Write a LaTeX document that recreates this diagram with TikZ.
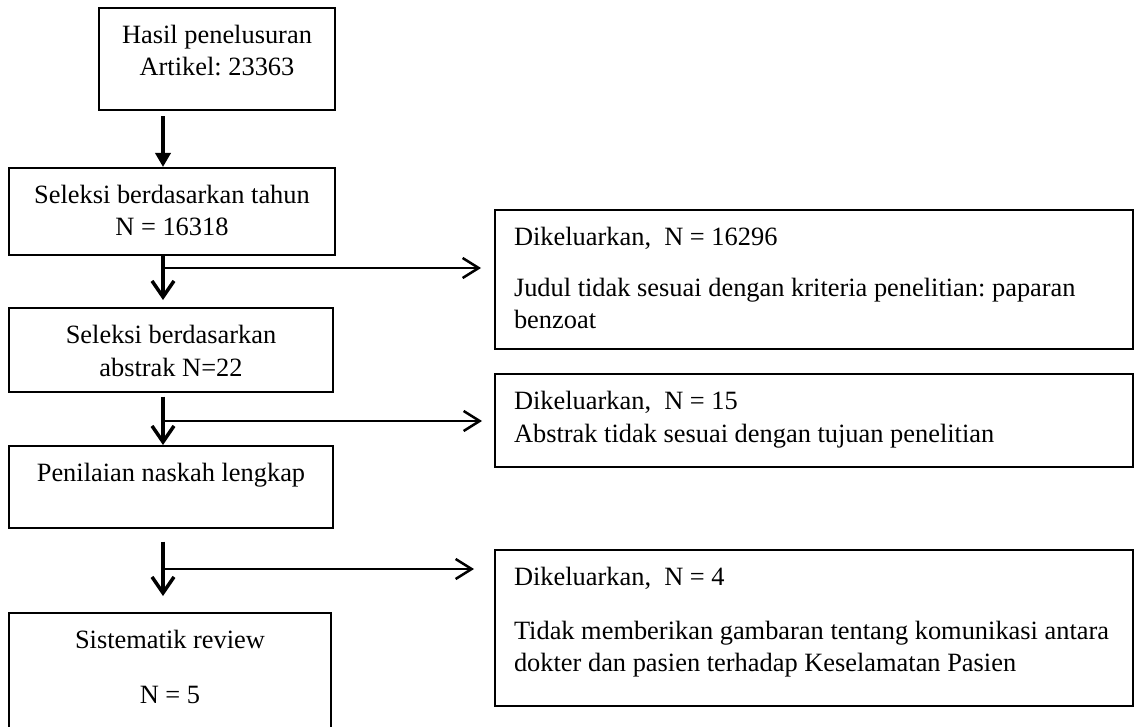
\documentclass[tikz,border=0pt]{standalone}
\usepackage{fontspec}
\setmainfont{Liberation Serif}
\usepackage{tikz}
\usetikzlibrary{positioning}
\usetikzlibrary{arrows.meta}
\frenchspacing
\hyphenpenalty=10000
\tikzstyle{stepbox}=[rectangle,draw,line width=1pt,inner sep=0pt,anchor=north west,align=flush center,text height=17.75pt,font=\fontsize{13.2pt}{16.25pt}\selectfont]
\tikzstyle{outbox}=[stepbox,align=flush left,inner xsep=9.5pt,text width=300pt]
\tikzstyle{edge} = [draw,line width=1.75pt,-{Straight Barb[length=8pt,width=11pt]}]
\tikzstyle{firstedge} = [draw,line width=1.75pt,-{Triangle[length=7pt,width=7.5pt]}]
\tikzstyle{sideedge} = [draw,line width=1.25pt,-{Straight Barb[length=8pt,width=10pt]}]

\begin{document}
\begin{tikzpicture}[x=0.5pt,y=-0.5pt]

  \useasboundingbox (0,0) rectangle (1134,727);

  % main column
  \foreach \x/\y/\w/\dep/\name/\label in {98/7/118/33.5/hasil/{Hasil penelusuran\\Artikel: 23363},
      8/167/163/25.5/seltahun/{Seleksi berdasarkan tahun\\N = 16318},
      8/307/162/24/selabstrak/{Seleksi berdasarkan\\abstrak N=22},
      8/445/162/23/naskah/{Penilaian naskah lengkap},
      8/612/161/44/review/{Sistematik review\\[11pt]N = 5}}
          \node[stepbox, text width=\w pt, text depth=\dep pt] (\name) at (\x,\y) {\label};

  % excluded
  \foreach \y/\dep/\name/\label in {209/51.5/keluar1/{Dikeluarkan,~ N = 16296\\[9pt]Judul tidak sesuai dengan kriteria penelitian: paparan benzoat},
      373/28.5/keluar2/{Dikeluarkan,~ N = 15\\Abstrak tidak sesuai dengan tujuan penelitian},
      549/60/keluar3/{Dikeluarkan,~ N = 4\\[10.5pt]Tidak memberikan gambaran tentang komunikasi antara dokter dan pasien terhadap Keselamatan Pasien}}
          \node[outbox, text depth=\dep pt] (\name) at (494,\y) {\label};

  \foreach \y/\name in {268/j1, 421/j2, 569/j3}
          \coordinate (\name) at (163,\y);

  \path[firstedge, shorten <=2.5pt] (hasil.south -| j1) -- (seltahun.north -| j1);

  \foreach \source/\dest/\a/\b in {seltahun/selabstrak/0/3.5, selabstrak/naskah/2/0, naskah/review/6.5/8}
         \path[edge, shorten <=\a pt, shorten >=\b pt] (\source.south -| j1) -- (\dest.north -| j1);

  \foreach \source/\dest/\b in {j1/keluar1/6.5, j2/keluar2/6, j3/keluar3/10}
         \path[sideedge, shorten >=\b pt] (\source) -- (\source -| \dest.west);

\end{tikzpicture}
\end{document}
